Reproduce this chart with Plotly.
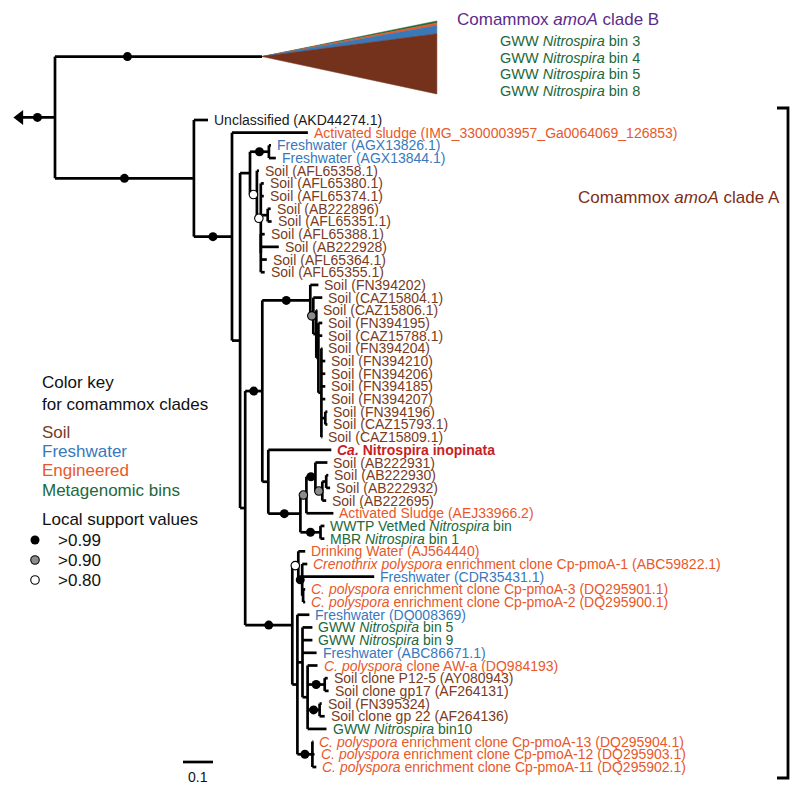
import plotly.graph_objects as go

# ---------------- data ----------------
# Tree topology with branch lengths (substitutions/site); internal labels = support class
# b: >0.99, g: >0.90, w: >0.80
NEWICK = (
    "(CladeB:0.690,"
    "(Unclassified:0.047,"
    "(ActIMG:0.253,"
    "(("
    "(AGX13826:0.007,AGX13844:0.023)b:0.063,"
    "(AFL65358:0.007,"
    "(AFL65380:0.010,AFL65374:0.010,(AB222896:0.010,AFL65351:0.013):0.023,"
    "(AFL65388:0.013,AB222928:0.060,AFL65364:0.020,AFL65355:0.013):0.000)w:0.013"
    ")w:0.023"
    "):0.033,"
    "(("
    "(FN394202:0.027,(CAZ15804:0.030,(CAZ15806:0.003,(FN394195:0.013,CAZ15788:0.013,"
    "(FN394204:0.003,FN394210:0.013,FN394206:0.013,FN394185:0.013,FN394207:0.013,"
    "(FN394196:0.007,CAZ15793:0.007):0.013,CAZ15809:0.003):0.010):0.007):0.010)g:0.010)b:0.160,"
    "(Inopinata:0.210,(((AB222931:0.040,((AB222930:0.007,AB222932:0.013):0.013,AB222695:0.013)g:0.023)b:0.030,"
    "AEJ33966:0.090)g:0.020,(WWTP:0.013,MBR:0.013)b:0.067)b:0.107):0.020"
    ")b:0.057,"
    "((DrinkingWater:0.023,(pmoA1:0.017,CDR35431:0.240,(pmoA3:0.007,pmoA2:0.007):0.003)b:0.013)w:0.020,"
    "(DQ008369:0.040,(bin5:0.033,bin9:0.033,ABC86671:0.047,"
    "(AWa:0.033,(P125:0.010,gp17:0.013)b:0.057,(FN395324:0.007,gp22:0.017)b:0.040,bin10:0.063):0.017):0.017,"
    "(pmoA13:0.003,pmoA12:0.007,pmoA11:0.013)b:0.050):0.017"
    ")b:0.157"
    "):0.017"
    "):0.027"
    ")b:0.127"
    ")b:0.463"
    ")b:0.117;"
)

# support of the collapsed clade B stem
LEAF_SUPPORT = {"CladeB": "b"}

LEAF_IDS = ["Unclassified", "ActIMG", "AGX13826", "AGX13844", "AFL65358", "AFL65380", "AFL65374",
            "AB222896", "AFL65351", "AFL65388", "AB222928", "AFL65364", "AFL65355", "FN394202",
            "CAZ15804", "CAZ15806", "FN394195", "CAZ15788", "FN394204", "FN394210", "FN394206",
            "FN394185", "FN394207", "FN394196", "CAZ15793", "CAZ15809", "Inopinata", "AB222931",
            "AB222930", "AB222932", "AB222695", "AEJ33966", "WWTP", "MBR", "DrinkingWater", "pmoA1",
            "CDR35431", "pmoA3", "pmoA2", "DQ008369", "bin5", "bin9", "ABC86671", "AWa", "P125",
            "gp17", "FN395324", "gp22", "bin10", "pmoA13", "pmoA12", "pmoA11"]

LEAF_TEXT = [
    "Unclassified (AKD44274.1)",
    "Activated sludge (IMG_3300003957_Ga0064069_126853)",
    "Freshwater (AGX13826.1)", "Freshwater (AGX13844.1)",
    "Soil (AFL65358.1)", "Soil (AFL65380.1)", "Soil (AFL65374.1)", "Soil (AB222896)",
    "Soil (AFL65351.1)", "Soil (AFL65388.1)", "Soil (AB222928)", "Soil (AFL65364.1)",
    "Soil (AFL65355.1)", "Soil (FN394202)", "Soil (CAZ15804.1)", "Soil (CAZ15806.1)",
    "Soil (FN394195)", "Soil (CAZ15788.1)", "Soil (FN394204)", "Soil (FN394210)",
    "Soil (FN394206)", "Soil (FN394185)", "Soil (FN394207)", "Soil (FN394196)",
    "Soil (CAZ15793.1)", "Soil (CAZ15809.1)",
    "<b><i>Ca.</i> Nitrospira inopinata</b>",
    "Soil (AB222931)", "Soil (AB222930)", "Soil (AB222932)", "Soil (AB222695)",
    "Activated Sludge (AEJ33966.2)",
    "WWTP VetMed <i>Nitrospira</i> bin", "MBR <i>Nitrospira</i> bin 1",
    "Drinking Water (AJ564440)",
    "<i>Crenothrix polyspora</i> enrichment clone Cp-pmoA-1 (ABC59822.1)",
    "Freshwater (CDR35431.1)",
    "<i>C. polyspora</i> enrichment clone Cp-pmoA-3 (DQ295901.1)",
    "<i>C. polyspora</i> enrichment clone Cp-pmoA-2 (DQ295900.1)",
    "Freshwater (DQ008369)",
    "GWW <i>Nitrospira</i> bin 5", "GWW <i>Nitrospira</i> bin 9",
    "Freshwater (ABC86671.1)",
    "<i>C. polyspora</i> clone AW-a (DQ984193)",
    "Soil clone P12-5 (AY080943)", "Soil clone gp17 (AF264131)",
    "Soil (FN395324)", "Soil clone gp 22 (AF264136)",
    "GWW <i>Nitrospira</i> bin10",
    "<i>C. polyspora</i> enrichment clone Cp-pmoA-13 (DQ295904.1)",
    "<i>C. polyspora</i> enrichment clone Cp-pmoA-12 (DQ295903.1)",
    "<i>C. polyspora</i> enrichment clone Cp-pmoA-11 (DQ295902.1)",
]

LEAF_GROUP = ["Unclassified", "Engineered", "Freshwater", "Freshwater"] + ["Soil"] * 22 + \
    ["Inopinata"] + ["Soil"] * 4 + ["Engineered", "Metagenomic", "Metagenomic", "Engineered",
    "Engineered", "Freshwater", "Engineered", "Engineered", "Freshwater", "Metagenomic",
    "Metagenomic", "Freshwater", "Engineered", "Soil", "Soil", "Soil", "Soil", "Metagenomic",
    "Engineered", "Engineered", "Engineered"]

# collapsed clade B: rows reserved, depth of the triangle, composition (top to bottom)
CLADE_B_ROWS = 9
CLADE_B_DEPTH = 0.583
CLADE_B_SPAN = (-2.81, 2.95)
CLADE_B_BAND_GROUPS = ["Metagenomic", "Engineered", "Freshwater", "Soil"]
CLADE_B_BAND_SHARE = [0.028, 0.035, 0.112, 0.825]
CLADE_B_BINS = ["GWW <i>Nitrospira</i> bin 3", "GWW <i>Nitrospira</i> bin 4",
                "GWW <i>Nitrospira</i> bin 5", "GWW <i>Nitrospira</i> bin 8"]

LEGEND_GROUPS = ["Soil", "Freshwater", "Engineered", "Metagenomic"]
LEGEND_GROUP_TEXT = ["Soil", "Freshwater", "Engineered", "Metagenomic bins"]
SUPPORT_CLASSES = ["b", "g", "w"]
SUPPORT_TEXT = [">0.99", ">0.90", ">0.80"]

# ---------------- styles ----------------
COLORS = {"Soil": "#7a3b22", "Freshwater": "#3878bd", "Engineered": "#e8582a",
          "Metagenomic": "#22683a", "Unclassified": "#1a1a1a", "Inopinata": "#c81e24"}
TRI_COLORS = {"Soil": "#74321c", "Freshwater": "#3a78b8", "Engineered": "#e8582a",
              "Metagenomic": "#1f6a36"}
SUP_STYLE = {"b": ("#000000", 9), "g": ("#8c8c8c", 8.5), "w": ("#ffffff", 8.5)}
FONT = "Liberation Sans, Arial, sans-serif"
W, H = 800, 790
X0PX, XSCALE = 55, 300.0          # root pixel, px per unit branch length
ROW0PX, ROWPX = 120, 12.686       # first labelled leaf pixel, px per row
DOT_FRAC = {"CladeB": 0.35}


# ---------------- newick parsing ----------------
def parse(s):
    pos = [0]

    def node():
        n = {"children": [], "name": "", "bl": 0.0}
        if s[pos[0]] == "(":
            pos[0] += 1
            while True:
                n["children"].append(node())
                c = s[pos[0]]
                pos[0] += 1
                if c == ")":
                    break
        start = pos[0]
        while s[pos[0]] not in ":,);":
            pos[0] += 1
        n["name"] = s[start:pos[0]]
        if s[pos[0]] == ":":
            pos[0] += 1
            start = pos[0]
            while s[pos[0]] not in ",);":
                pos[0] += 1
            n["bl"] = float(s[start:pos[0]])
        return n

    return node()


tree = parse(NEWICK)
row = [0]


def layout(n, x):
    n["x"] = x
    if not n["children"]:
        if n["name"] == "CladeB":
            n["y"] = row[0] + (CLADE_B_ROWS - 1) / 2.0
            row[0] += CLADE_B_ROWS
        else:
            n["y"] = row[0]
            row[0] += 1
        return
    for c in n["children"]:
        layout(c, x + c["bl"])
    n["y"] = (n["children"][0]["y"] + n["children"][-1]["y"]) / 2.0


layout(tree, 0.0)
ROW_OFFSET = CLADE_B_ROWS  # first labelled leaf row index

# axis ranges so that root sits at X0PX and first leaf at ROW0PX
xr = [-X0PX / XSCALE, (W - X0PX) / XSCALE]
yr = [ROW_OFFSET + (H - ROW0PX) / ROWPX, ROW_OFFSET - ROW0PX / ROWPX]

lx, ly = [], []
dots = {k: ([], []) for k in SUPPORT_CLASSES}
leaves = []
cladeB = None


def walk(n):
    global cladeB
    if not n["children"]:
        if n["name"] == "CladeB":
            cladeB = n
        else:
            leaves.append(n)
        return
    lx.extend([n["x"], n["x"], None])
    ly.extend([n["children"][0]["y"], n["children"][-1]["y"], None])
    for c in n["children"]:
        lx.extend([n["x"], c["x"], None])
        ly.extend([c["y"], c["y"], None])
        sup = c["name"] if c["children"] else LEAF_SUPPORT.get(c["name"], "")
        if sup in dots:
            f = DOT_FRAC.get(c["name"], 0.5)
            dots[sup][0].append(n["x"] + f * (c["x"] - n["x"]))
            dots[sup][1].append(c["y"])
        walk(c)


walk(tree)
# root stem (outgroup direction)
stem = tree["bl"]
lx.extend([-stem, 0, None])
ly.extend([tree["y"], tree["y"], None])
if tree["name"] in dots:
    dots[tree["name"]][0].append(-stem / 2)
    dots[tree["name"]][1].append(tree["y"])

fig = go.Figure()

# clade B collapsed triangle with composition bands
ax, ay = cladeB["x"], cladeB["y"]
rx = ax + CLADE_B_DEPTH
top = ay + CLADE_B_SPAN[0]
span = CLADE_B_SPAN[1] - CLADE_B_SPAN[0]
acc = top
for g, share in zip(CLADE_B_BAND_GROUPS, CLADE_B_BAND_SHARE):
    y1, y2 = acc, acc + share * span
    acc = y2
    fig.add_trace(go.Scatter(x=[ax, rx, rx, ax], y=[ay, y1, y2, ay], mode="lines",
                             fill="toself", fillcolor=TRI_COLORS[g],
                             line=dict(color=TRI_COLORS[g], width=0.5), hoverinfo="skip"))

fig.add_trace(go.Scatter(x=lx, y=ly, mode="lines", line=dict(color="black", width=2.7),
                         hoverinfo="skip"))

# root arrow
fig.add_trace(go.Scatter(x=[-stem], y=[tree["y"]], mode="markers",
                         marker=dict(symbol="triangle-left", size=13, color="black"),
                         hoverinfo="skip"))

for k in SUPPORT_CLASSES:
    col, sz = SUP_STYLE[k]
    fig.add_trace(go.Scatter(x=dots[k][0], y=dots[k][1], mode="markers",
                             marker=dict(size=sz, color=col,
                                         line=dict(color="black", width=0 if k == "b" else 1.1)),
                             hoverinfo="skip"))

annots = []
name_to_i = {nm: i for i, nm in enumerate(LEAF_IDS)}
for lf in leaves:
    i = name_to_i[lf["name"]]
    annots.append(dict(x=lf["x"], y=lf["y"], xref="x", yref="y", text=LEAF_TEXT[i],
                       xanchor="left", yanchor="middle", xshift=4, showarrow=False,
                       font=dict(family=FONT, size=14, color=COLORS[LEAF_GROUP[i]])))


def P(x, y):
    return x / W, 1 - y / H


def txt(x, y, t, size, color, anchor="left"):
    px, py = P(x, y)
    annots.append(dict(x=px, y=py, xref="paper", yref="paper", text=t, xanchor=anchor,
                       yanchor="middle", showarrow=False,
                       font=dict(family=FONT, size=size, color=color)))


txt(455, 19, "Comammox <i>amoA</i> clade B", 17, "#5a2c8a")
for j, t in enumerate(CLADE_B_BINS):
    txt(498, 41 + j * 16.7, t, 14.5, COLORS["Metagenomic"])
txt(576, 197, "Comammox <i>amoA</i> clade A", 17, "#7c2e18")

# legend
txt(40, 383, "Color key", 17, "#111111")
txt(40, 405, "for comammox clades", 17, "#111111")
for j, (g, t) in enumerate(zip(LEGEND_GROUPS, LEGEND_GROUP_TEXT)):
    txt(40, 432 + j * 19.4, t, 17, COLORS[g])
txt(40, 519, "Local support values", 17, "#111111")
for j, t in enumerate(SUPPORT_TEXT):
    txt(56, 540 + j * 20, t, 17, "#111111")

shapes = []
# legend dots (paper coords)
for j, k in enumerate(SUPPORT_CLASSES):
    col, sz = SUP_STYLE[k]
    cx, cy = 35, 540 + j * 20
    r = sz / 2
    x0, y0 = P(cx - r, cy - r)
    x1, y1 = P(cx + r, cy + r)
    shapes.append(dict(type="circle", xref="paper", yref="paper", x0=x0, x1=x1, y0=y1, y1=y0,
                       fillcolor=col, line=dict(color="black", width=0 if k == "b" else 1.1)))

# clade A bracket
bx = [777, 788, 788, 777]
by = [108, 108, 778, 778]
path = "M " + " L ".join(f"{P(a, b)[0]},{P(a, b)[1]}" for a, b in zip(bx, by))
shapes.append(dict(type="path", xref="paper", yref="paper", path=path,
                   line=dict(color="black", width=2.8)))

# scale bar (0.1 substitutions)
sb_x, sb_y = (183 - X0PX) / XSCALE, ROW_OFFSET + (762 - ROW0PX) / ROWPX
shapes.append(dict(type="line", xref="x", yref="y", x0=sb_x, x1=sb_x + 0.1, y0=sb_y, y1=sb_y,
                   line=dict(color="black", width=2.7)))
annots.append(dict(x=sb_x + 0.05, y=sb_y, xref="x", yref="y", text="0.1", yshift=-15,
                   showarrow=False, xanchor="center", yanchor="middle",
                   font=dict(family=FONT, size=14, color="#111111")))

fig.update_layout(
    width=W, height=H, autosize=False,
    margin=dict(l=0, r=0, t=0, b=0),
    paper_bgcolor="white", plot_bgcolor="white",
    showlegend=False,
    xaxis=dict(range=xr, visible=False, fixedrange=True),
    yaxis=dict(range=yr, visible=False, fixedrange=True),
    annotations=annots, shapes=shapes,
)

fig.write_html("out.html", config={"displayModeBar": False},
               post_script="document.body.style.margin='0px';")
